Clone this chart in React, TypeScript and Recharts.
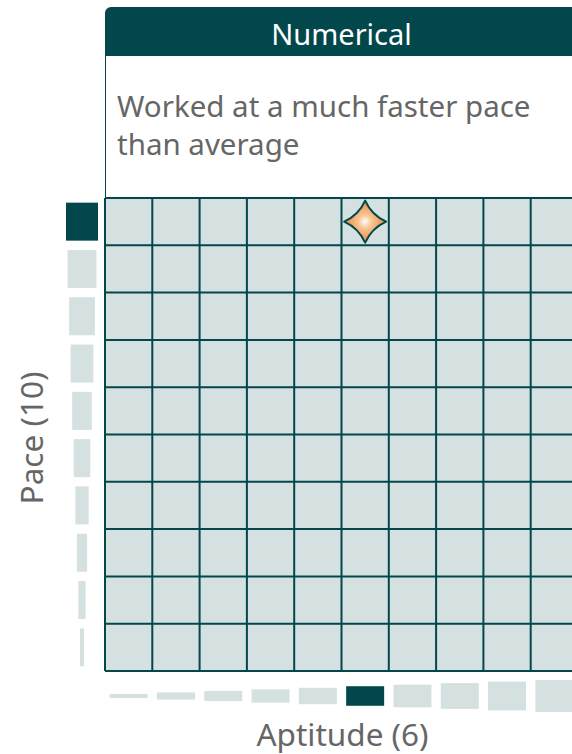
import React from 'react';
import { ScatterChart, Scatter, XAxis, YAxis, ZAxis, CartesianGrid } from 'recharts';

const TEAL = '#02474c';
const CELL = '#d5e0e0';
const GREY = '#666666';

// levels on each axis, 1 = lowest
const paceLevels = [1, 2, 3, 4, 5, 6, 7, 8, 9, 10];
const aptitudeLevels = [1, 2, 3, 4, 5, 6, 7, 8, 9, 10];
const gridTicks = [0, 1, 2, 3, 4, 5, 6, 7, 8, 9, 10];

const selectedPace = 10;
const selectedAptitude = 6;
const skillName = 'Numerical';
const summaryLines = ['Worked at a much faster pace', 'than average'];

const paceBars = paceLevels.map(l => ({ x: 0, y: l - 0.5, level: l }));
const aptitudeBars = aptitudeLevels.map(l => ({ x: l - 0.5, y: 0, level: l }));
const marker = [{ x: selectedAptitude - 0.5, y: selectedPace - 0.5 }];

const PaceBar = (props: any) => {
  const { cx, cy, size, payload } = props;
  const on = payload.level === selectedPace;
  return <rect x={cx - 23 - size / 2} y={cy - 19} width={size} height={38} fill={on ? TEAL : CELL} />;
};

const AptitudeBar = (props: any) => {
  const { cx, cy, size, payload } = props;
  const on = payload.level === selectedAptitude;
  return <rect x={cx - 19} y={cy + 25 - size / 2} width={38} height={size} fill={on ? TEAL : CELL} />;
};

// four-point star with slightly concave sides
const Star = (props: any) => {
  const { cx, cy } = props;
  const R = 21;
  const k = 6.5;
  const d =
    `M${cx},${cy - R} Q${cx + k},${cy - k} ${cx + R},${cy} ` +
    `Q${cx + k},${cy + k} ${cx},${cy + R} ` +
    `Q${cx - k},${cy + k} ${cx - R},${cy} ` +
    `Q${cx - k},${cy - k} ${cx},${cy - R} Z`;
  return <path d={d} fill="url(#starFill)" stroke={TEAL} strokeWidth={2} strokeLinejoin="round" />;
};

export default function App() {
  const font = '"Noto Sans", sans-serif';
  return (
    <div style={{ position: 'absolute', left: 0, top: 0, width: 572, height: 754, overflow: 'hidden', background: '#fff', fontFamily: font }}>
      <div style={{ position: 'absolute', left: 105, top: 7, width: 473, height: 49, background: TEAL, borderTopLeftRadius: 6, borderTopRightRadius: 6, color: '#fff', fontSize: 29, lineHeight: '49px', textAlign: 'center' }}>
        <div style={{ position: 'relative', top: 2 }}>{skillName}</div>
      </div>
      <div style={{ position: 'absolute', left: 105, top: 56, width: 471, height: 142, borderLeft: `1px solid ${TEAL}`, borderRight: `1px solid ${TEAL}`, background: '#fff' }}>
        <div style={{ position: 'absolute', left: 11, top: 31, color: GREY, fontSize: 29.5, lineHeight: '38px', whiteSpace: 'nowrap' }}>
          {summaryLines.map(s => <div key={s}>{s}</div>)}
        </div>
      </div>

      <ScatterChart width={600} height={754} margin={{ top: 198, left: 105, right: 22, bottom: 83 }} style={{ position: 'absolute', left: 0, top: 0 }}>
        <defs>
          <radialGradient id="starFill" cx="50%" cy="50%" r="50%">
            <stop offset="0%" stopColor="#ffffff" />
            <stop offset="30%" stopColor="#f8c897" />
            <stop offset="100%" stopColor="#e8863a" />
          </radialGradient>
        </defs>
        <CartesianGrid fill={CELL} fillOpacity={1} stroke={TEAL} strokeWidth={2} strokeOpacity={1} />
        <XAxis type="number" dataKey="x" domain={[0, 10]} ticks={gridTicks} hide />
        <YAxis type="number" dataKey="y" domain={[0, 10]} ticks={gridTicks} hide />
        <ZAxis type="number" dataKey="level" domain={[1, 10]} range={[4, 32]} />
        <Scatter data={paceBars} shape={PaceBar} isAnimationActive={false} />
        <Scatter data={aptitudeBars} shape={AptitudeBar} isAnimationActive={false} />
        <Scatter data={marker} shape={Star} isAnimationActive={false} />
      </ScatterChart>

      <div style={{ position: 'absolute', left: 0, top: 716, width: 685, textAlign: 'center', color: GREY, fontSize: 31.5, lineHeight: '36px' }}>
        Aptitude (6)
      </div>
      <div style={{ position: 'absolute', left: 31 - 100, top: 438 - 18, width: 200, height: 36, textAlign: 'center', color: GREY, fontSize: 31.5, lineHeight: '36px', transform: 'rotate(-90deg)' }}>
        Pace (10)
      </div>
    </div>
  );
}
